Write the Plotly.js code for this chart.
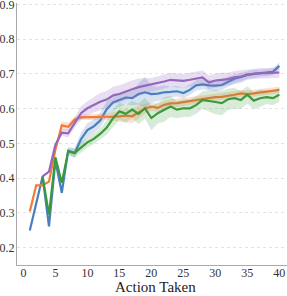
<!DOCTYPE html>
<html>
<head>
<meta charset="utf-8">
<script src="https://cdn.plot.ly/plotly-3.0.1.min.js"></script>
<style>html,body{margin:0;padding:0;background:#fff}#chart{width:287px;height:296px}</style>
</head>
<body>
<div id="chart"></div>
<script>
var actions = [];
for (var i = 1; i <= 40; i++) actions.push(i);

var blueVals = [0.249,0.327,0.405,0.261,0.45,0.358,0.479,0.472,0.512,0.538,0.549,0.566,0.598,0.618,0.625,0.632,0.63,0.642,0.647,0.642,0.643,0.647,0.648,0.65,0.645,0.654,0.667,0.67,0.667,0.666,0.668,0.678,0.686,0.691,0.697,0.7,0.702,0.703,0.706,0.723];
var blueSpread = [0,0,0,0,0.005,0.008,0.01,0.015,0.018,0.02,0.02,0.022,0.022,0.025,0.02,0.02,0.02,0.03,0.045,0.025,0.02,0.02,0.015,0.015,0.015,0.015,0.015,0.015,0.015,0.015,0.015,0.015,0.012,0.012,0.012,0.012,0.01,0.01,0.01,0.01];

var orangeVals = [0.304,0.379,0.379,0.39,0.482,0.552,0.548,0.568,0.575,0.575,0.576,0.577,0.577,0.577,0.578,0.58,0.578,0.59,0.6,0.606,0.602,0.611,0.615,0.616,0.619,0.621,0.625,0.628,0.63,0.633,0.634,0.636,0.64,0.644,0.642,0.644,0.646,0.648,0.651,0.654];
var orangeSpread = [0,0,0,0,0.005,0.012,0.012,0.01,0.008,0.008,0.008,0.008,0.01,0.012,0.015,0.02,0.02,0.02,0.015,0.012,0.012,0.012,0.012,0.012,0.012,0.012,0.012,0.01,0.01,0.01,0.01,0.01,0.01,0.01,0.01,0.01,0.01,0.01,0.01,0.01];

var greenVals = [null,null,0.405,0.295,0.46,0.387,0.477,0.472,0.488,0.503,0.513,0.527,0.545,0.572,0.592,0.585,0.597,0.585,0.601,0.573,0.587,0.597,0.606,0.597,0.601,0.601,0.61,0.625,0.623,0.619,0.616,0.627,0.63,0.625,0.64,0.623,0.63,0.633,0.63,0.64];
var greenSpread = [0,0,0,0,0.005,0.008,0.01,0.012,0.015,0.015,0.015,0.015,0.02,0.025,0.025,0.025,0.025,0.03,0.03,0.035,0.03,0.035,0.03,0.025,0.025,0.025,0.025,0.025,0.03,0.035,0.035,0.03,0.03,0.025,0.025,0.025,0.025,0.02,0.02,0.02];

var purpleVals = [null,null,0.405,0.419,0.496,0.531,0.529,0.56,0.587,0.601,0.611,0.62,0.626,0.638,0.642,0.65,0.656,0.662,0.666,0.668,0.673,0.678,0.683,0.681,0.68,0.683,0.686,0.69,0.675,0.681,0.683,0.685,0.69,0.692,0.698,0.701,0.702,0.702,0.703,0.704];
var purpleSpread = [0,0,0,0,0.005,0.01,0.012,0.015,0.02,0.02,0.022,0.025,0.025,0.025,0.025,0.025,0.025,0.025,0.022,0.02,0.02,0.02,0.02,0.02,0.02,0.02,0.02,0.02,0.02,0.02,0.02,0.018,0.018,0.018,0.015,0.015,0.015,0.015,0.015,0.015];

var xTickVals = [0, 5, 10, 15, 20, 25, 30, 35, 40];
var yTickVals = [0.2, 0.3, 0.4, 0.5, 0.6, 0.7, 0.8, 0.9];
var yTickText = ['0.2', '0.3', '0.4', '0.5', '0.6', '0.7', '0.8', '0.9'];
var xTitle = 'Action Taken';

var series = [
  {name: 'blue', vals: blueVals, spread: blueSpread, color: '#4a7fbf', fill: 'rgba(74,127,191,0.22)'},
  {name: 'orange', vals: orangeVals, spread: orangeSpread, color: '#f27b35', fill: 'rgba(242,123,53,0.22)'},
  {name: 'green', vals: greenVals, spread: greenSpread, color: '#3a9a3a', fill: 'rgba(58,154,58,0.2)'},
  {name: 'purple', vals: purpleVals, spread: purpleSpread, color: '#9467bd', fill: 'rgba(148,103,189,0.22)'}
];

var traces = [];
series.forEach(function (s) {
  var xs = [], up = [], lo = [];
  for (var i = 0; i < actions.length; i++) {
    if (s.vals[i] === null) continue;
    xs.push(actions[i]);
    up.push(s.vals[i] + s.spread[i]);
    lo.push(s.vals[i] - s.spread[i]);
  }
  traces.push({x: xs, y: lo, mode: 'lines', line: {width: 0}, hoverinfo: 'skip', showlegend: false});
  traces.push({x: xs, y: up, mode: 'lines', line: {width: 0}, fill: 'tonexty', fillcolor: s.fill, hoverinfo: 'skip', showlegend: false});
  traces.push({x: actions, y: s.vals, mode: 'lines', line: {color: s.color, width: 2.2}, name: s.name, showlegend: false, connectgaps: false});
});

var layout = {
  width: 287, height: 296,
  margin: {l: 17, r: 0, t: 3, b: 31},
  paper_bgcolor: '#fff', plot_bgcolor: '#fff',
  font: {family: '"Liberation Serif", "DejaVu Serif", serif', color: '#333'},
  showlegend: false,
  xaxis: {
    range: [-1, 41.2],
    tickvals: xTickVals,
    showgrid: false, zeroline: false,
    showline: true, linecolor: '#aaaaaa', linewidth: 1,
    ticks: '', tickfont: {size: 12, color: '#333'},
    ticklabeloverflow: 'allow', ticklabelstandoff: -3
  },
  yaxis: {
    range: [0.15, 0.904],
    tickvals: yTickVals,
    ticktext: yTickText,
    showgrid: true, gridcolor: '#e3e3e3', griddash: 'dot', gridwidth: 1,
    zeroline: false,
    showline: true, linecolor: '#aaaaaa', linewidth: 1,
    ticks: '', tickfont: {size: 12, color: '#333'},
    ticklabeloverflow: 'allow', ticklabelstandoff: -1
  },
  annotations: [{
    text: xTitle, xref: 'paper', yref: 'paper', x: 0.5, y: 0,
    xanchor: 'center', yanchor: 'top', xshift: 3, yshift: -12,
    showarrow: false, font: {size: 15, color: '#222'}
  }]
};

Plotly.newPlot('chart', traces, layout, {displayModeBar: false, staticPlot: true});
</script>
</body>
</html>
